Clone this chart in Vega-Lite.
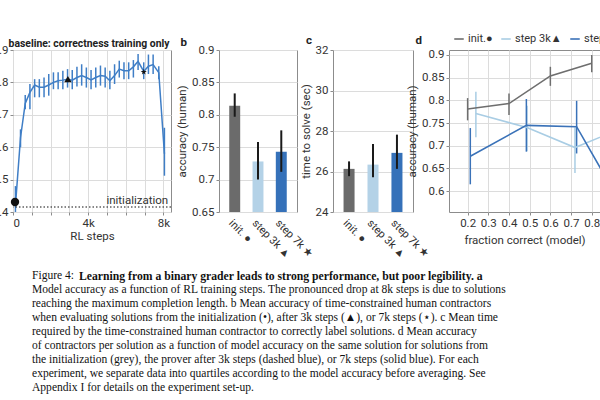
{
  "$schema": "https://vega.github.io/schema/vega-lite/v6.json",
  "padding": {"left": -9, "top": 32, "right": 0, "bottom": 0},
  "spacing": 8,
  "config": {
    "font": "Roboto",
    "view": {"stroke": "#8c8c8c", "strokeWidth": 1},
    "axis": {"labelFont": "Roboto", "labelFontSize": 11.5, "labelColor": "#333", "titleFont": "Roboto", "titleFontSize": 11.5, "titleFontWeight": "normal", "titleColor": "#333", "domain": false, "tickColor": "#8c8c8c", "tickSize": 3, "gridColor": "#dcdcdc", "labelPadding": 2, "titlePadding": 4, "labelOverlap": false},
    "title": {"font": "Roboto", "fontSize": 11.5, "fontWeight": "bold", "color": "#222"},
    "legend": {"labelFont": "Roboto", "labelFontSize": 11, "labelColor": "#333"}
  },
  "vconcat": [
    {
      "bounds": "flush",
      "spacing": 48,
      "hconcat": [
        {
          "width": 158,
          "height": 162,
          "title": {"text": "baseline: correctness training only", "offset": -5, "fontSize": 10.4, "dx": -3},
          "layer": [
            {
              "data": {"name": "rl", "values": [
                {"step": 130, "acc": 0.42, "lo": 0.4, "hi": 0.48},
                {"step": 400, "acc": 0.63, "lo": 0.6, "hi": 0.655},
                {"step": 650, "acc": 0.735, "lo": 0.717, "hi": 0.761},
                {"step": 900, "acc": 0.769, "lo": 0.717, "hi": 0.795},
                {"step": 1150, "acc": 0.792, "lo": 0.754, "hi": 0.81},
                {"step": 1400, "acc": 0.785, "lo": 0.754, "hi": 0.81},
                {"step": 1650, "acc": 0.785, "lo": 0.754, "hi": 0.815},
                {"step": 1900, "acc": 0.792, "lo": 0.759, "hi": 0.826},
                {"step": 2150, "acc": 0.8, "lo": 0.779, "hi": 0.831},
                {"step": 2400, "acc": 0.805, "lo": 0.779, "hi": 0.831},
                {"step": 2650, "acc": 0.807, "lo": 0.779, "hi": 0.836},
                {"step": 2900, "acc": 0.81, "lo": 0.784, "hi": 0.841},
                {"step": 3150, "acc": 0.807, "lo": 0.779, "hi": 0.838},
                {"step": 3400, "acc": 0.815, "lo": 0.787, "hi": 0.848},
                {"step": 3650, "acc": 0.821, "lo": 0.79, "hi": 0.856},
                {"step": 3900, "acc": 0.815, "lo": 0.784, "hi": 0.846},
                {"step": 4150, "acc": 0.808, "lo": 0.779, "hi": 0.838},
                {"step": 4400, "acc": 0.815, "lo": 0.784, "hi": 0.846},
                {"step": 4650, "acc": 0.821, "lo": 0.79, "hi": 0.852},
                {"step": 4900, "acc": 0.819, "lo": 0.784, "hi": 0.846},
                {"step": 5150, "acc": 0.805, "lo": 0.779, "hi": 0.836},
                {"step": 5400, "acc": 0.821, "lo": 0.795, "hi": 0.856},
                {"step": 5650, "acc": 0.841, "lo": 0.815, "hi": 0.867},
                {"step": 5900, "acc": 0.836, "lo": 0.81, "hi": 0.862},
                {"step": 6150, "acc": 0.836, "lo": 0.81, "hi": 0.862},
                {"step": 6400, "acc": 0.848, "lo": 0.815, "hi": 0.869},
                {"step": 6650, "acc": 0.865, "lo": 0.838, "hi": 0.888},
                {"step": 6950, "acc": 0.834, "lo": 0.81, "hi": 0.862},
                {"step": 7200, "acc": 0.85, "lo": 0.826, "hi": 0.886},
                {"step": 7450, "acc": 0.855, "lo": 0.826, "hi": 0.886},
                {"step": 7750, "acc": 0.83, "lo": 0.81, "hi": 0.85},
                {"step": 8050, "acc": 0.58, "lo": 0.512, "hi": 0.66}
              ]},
              "mark": {"type": "rule", "color": "#3f7ec6", "strokeWidth": 1.5},
              "encoding": {
                "x": {"field": "step", "type": "quantitative", "scale": {"domain": [0, 8400], "nice": false},
                  "axis": {"title": "RL steps", "values": [0, 1000, 2000, 3000, 4000, 5000, 6000, 7000, 8000], "tickCount": 30, "labelExpr": "datum.value == 0 ? '0' : (datum.value % 4000 == 0 ? (datum.value / 1000) + 'k' : '')", "grid": true, "titlePadding": 2, "labelOverlap": false}},
                "y": {"field": "lo", "type": "quantitative", "scale": {"domain": [0.4, 0.9], "nice": false, "zero": false},
                  "axis": {"title": null, "values": [0.4, 0.5, 0.6, 0.7, 0.8, 0.9], "tickCount": 30, "format": "~g", "grid": true, "labelOverlap": false}},
                "y2": {"field": "hi"}
              }
            },
            {
              "data": {"name": "rl"},
              "mark": {"type": "line", "color": "#3f7ec6", "strokeWidth": 1.5},
              "encoding": {
                "x": {"field": "step", "type": "quantitative"},
                "y": {"field": "acc", "type": "quantitative"}
              }
            },
            {
              "data": {"values": [{"v": 0.4155}]},
              "mark": {"type": "rule", "color": "#111", "strokeWidth": 1.2, "strokeDash": [1.5, 2]},
              "encoding": {"y": {"field": "v", "type": "quantitative"}}
            },
            {
              "data": {"values": [{"s": 8250, "v": 0.4155, "t": "initialization"}]},
              "mark": {"type": "text", "align": "right", "baseline": "bottom", "dy": -1, "fontSize": 11.5, "color": "#333"},
              "encoding": {
                "x": {"field": "s", "type": "quantitative"},
                "y": {"field": "v", "type": "quantitative"},
                "text": {"field": "t"}
              }
            },
            {
              "data": {"values": [{"s": 106, "v": 0.431, "m": "init"}, {"s": 2920, "v": 0.81, "m": "3k"}, {"s": 6950, "v": 0.832, "m": "7k"}]},
              "mark": {"type": "point", "filled": true, "color": "#111", "opacity": 1},
              "encoding": {
                "x": {"field": "s", "type": "quantitative"},
                "y": {"field": "v", "type": "quantitative"},
                "shape": {"field": "m", "type": "nominal", "scale": {"domain": ["init", "3k", "7k"], "range": ["circle", "triangle-up", "M0,-1L0.22,-0.31L0.95,-0.31L0.36,0.12L0.59,0.81L0,0.38L-0.59,0.81L-0.36,0.12L-0.95,-0.31L-0.22,-0.31Z"]}, "legend": null},
                "size": {"field": "m", "type": "nominal", "scale": {"domain": ["init", "3k", "7k"], "range": [70, 40, 80]}, "legend": null}
              }
            }
          ]
        },
        {
          "bounds": "flush",
          "spacing": 36,
          "resolve": {"scale": {"color": "independent"}},
          "hconcat": [
            {
              "width": 78,
              "height": 162,
              "title": {"text": "b", "anchor": "start", "frame": "bounds", "offset": -4, "dx": 4},
              "data": {"values": [
                {"cond": "init. ●", "acc": 0.814, "lo": 0.797, "hi": 0.833},
                {"cond": "step 3k ▲", "acc": 0.728, "lo": 0.7, "hi": 0.758},
                {"cond": "step 7k ★", "acc": 0.743, "lo": 0.712, "hi": 0.776}
              ]},
              "encoding": {
                "x": {"field": "cond", "type": "nominal", "sort": null, "scale": {"paddingInner": 0.53, "paddingOuter": 0.44},
                  "axis": {"title": null, "labelAngle": 45, "labelAlign": "left", "labelBaseline": "top", "ticks": false, "grid": false, "labelPadding": 5, "labelFontSize": 11}}
              },
              "layer": [
                {
                  "mark": {"type": "bar"},
                  "encoding": {
                    "y": {"field": "acc", "type": "quantitative", "scale": {"domain": [0.65, 0.9], "nice": false, "zero": false},
                      "axis": {"title": "accuracy (human)", "values": [0.65, 0.7, 0.75, 0.8, 0.85, 0.9], "tickCount": 30, "format": "~g", "grid": true, "labelOverlap": false}},
                    "y2": {"datum": 0.65},
                    "color": {"field": "cond", "type": "nominal", "sort": null, "scale": {"range": ["#6b6b6b", "#b4d2e7", "#3571b9"]}, "legend": null}
                  }
                },
                {
                  "mark": {"type": "rule", "color": "#1a1a1a", "strokeWidth": 2},
                  "encoding": {
                    "y": {"field": "lo", "type": "quantitative"},
                    "y2": {"field": "hi"}
                  }
                }
              ]
            },
            {
              "width": 80,
              "height": 162,
              "title": {"text": "c", "anchor": "start", "frame": "bounds", "offset": -2, "dx": 6},
              "data": {"values": [
                {"cond": "init. ●", "t": 26.13, "lo": 25.77, "hi": 26.5},
                {"cond": "step 3k ▲", "t": 26.34, "lo": 25.72, "hi": 27.36},
                {"cond": "step 7k ★", "t": 26.92, "lo": 26.13, "hi": 27.82}
              ]},
              "encoding": {
                "x": {"field": "cond", "type": "nominal", "sort": null, "scale": {"paddingInner": 0.54, "paddingOuter": 0.44},
                  "axis": {"title": null, "labelAngle": 45, "labelAlign": "left", "labelBaseline": "top", "ticks": false, "grid": false, "labelPadding": 5, "labelFontSize": 11}}
              },
              "layer": [
                {
                  "mark": {"type": "bar"},
                  "encoding": {
                    "y": {"field": "t", "type": "quantitative", "scale": {"domain": [24, 32], "nice": false, "zero": false},
                      "axis": {"title": "time to solve (sec)", "values": [24, 26, 28, 30, 32], "tickCount": 30, "format": "~g", "grid": true, "labelOverlap": false}},
                    "y2": {"datum": 24},
                    "color": {"field": "cond", "type": "nominal", "sort": null, "scale": {"range": ["#6b6b6b", "#b4d2e7", "#3571b9"]}, "legend": null}
                  }
                },
                {
                  "mark": {"type": "rule", "color": "#1a1a1a", "strokeWidth": 2},
                  "encoding": {
                    "y": {"field": "lo", "type": "quantitative"},
                    "y2": {"field": "hi"}
                  }
                }
              ]
            },
            {
              "width": 151,
              "height": 162,
              "title": {"text": "d", "anchor": "start", "frame": "bounds", "offset": -13, "dx": 9},
              "data": {"values": [
                {"series": "init.●", "fc": 0.2, "acc": 0.781, "lo": 0.756, "hi": 0.805},
                {"series": "init.●", "fc": 0.4, "acc": 0.793, "lo": 0.768, "hi": 0.815},
                {"series": "init.●", "fc": 0.6, "acc": 0.854, "lo": 0.832, "hi": 0.874},
                {"series": "init.●", "fc": 0.8, "acc": 0.882, "lo": 0.862, "hi": 0.9},
                {"series": "step 3k▲", "fc": 0.24, "acc": 0.771, "lo": 0.719, "hi": 0.819},
                {"series": "step 3k▲", "fc": 0.487, "acc": 0.74, "lo": 0.688, "hi": 0.788},
                {"series": "step 3k▲", "fc": 0.719, "acc": 0.696, "lo": 0.64, "hi": 0.74},
                {"series": "step 3k▲", "fc": 0.9, "acc": 0.73, "lo": 0.68, "hi": 0.78},
                {"series": "step 7k★", "fc": 0.213, "acc": 0.677, "lo": 0.615, "hi": 0.739},
                {"series": "step 7k★", "fc": 0.484, "acc": 0.745, "lo": 0.687, "hi": 0.803},
                {"series": "step 7k★", "fc": 0.727, "acc": 0.742, "lo": 0.683, "hi": 0.799},
                {"series": "step 7k★", "fc": 0.9, "acc": 0.605, "lo": 0.55, "hi": 0.66}
              ]},
              "encoding": {
                "x": {"field": "fc", "type": "quantitative", "scale": {"domain": [0.11, 0.84], "nice": false, "zero": false},
                  "axis": {"title": "fraction correct (model)", "values": [0.2, 0.3, 0.4, 0.5, 0.6, 0.7, 0.8], "tickCount": 30, "format": "~g", "grid": true, "titlePadding": 6, "labelOverlap": false}},
                "color": {"field": "series", "type": "nominal", "sort": null,
                  "scale": {"domain": ["init.●", "step 3k▲", "step 7k★"], "range": ["#6e6e6e", "#a9cde4", "#3a72b8"]},
                  "legend": {"title": null, "orient": "none", "legendX": 4, "legendY": -17, "direction": "horizontal", "symbolType": "stroke", "symbolStrokeWidth": 1.6, "symbolSize": 90, "columnPadding": 5, "labelOffset": 3}}
              },
              "layer": [
                {
                  "mark": {"type": "rule", "strokeWidth": 1.5, "clip": true},
                  "encoding": {
                    "y": {"field": "lo", "type": "quantitative", "scale": {"domain": [0.554, 0.911], "nice": false, "zero": false},
                      "axis": {"title": "accuracy (human)", "values": [0.6, 0.65, 0.7, 0.75, 0.8, 0.85, 0.9], "tickCount": 30, "format": "~g", "grid": true, "labelOverlap": false}},
                    "y2": {"field": "hi"}
                  }
                },
                {
                  "mark": {"type": "line", "strokeWidth": 1.6, "clip": true},
                  "encoding": {
                    "y": {"field": "acc", "type": "quantitative"}
                  }
                }
              ]
            }
          ]
        }
      ]
    },
    {
      "width": 38,
      "height": 126,
      "view": {"stroke": null},
      "data": {"values": [
        {"line": 1, "text": "Figure 4:", "bold": "Learning from a binary grader leads to strong performance, but poor legibility. a"},
        {"line": 2, "text": "Model accuracy as a function of RL training steps. The pronounced drop at 8k steps is due to solutions"},
        {"line": 3, "text": "reaching the maximum completion length. b Mean accuracy of time-constrained human contractors"},
        {"line": 4, "text": "when evaluating solutions from the initialization (•), after 3k steps (▲), or 7k steps (⋆). c Mean time"},
        {"line": 5, "text": "required by the time-constrained human contractor to correctly label solutions. d Mean accuracy"},
        {"line": 6, "text": "of contractors per solution as a function of model accuracy on the same solution for solutions from"},
        {"line": 7, "text": "the initialization (grey), the prover after 3k steps (dashed blue), or 7k steps (solid blue). For each"},
        {"line": 8, "text": "experiment, we separate data into quartiles according to the model accuracy before averaging. See"},
        {"line": 9, "text": "Appendix I for details on the experiment set-up."}
      ]},
      "encoding": {
        "y": {"field": "line", "type": "ordinal", "axis": null}
      },
      "layer": [
        {
          "mark": {"type": "text", "align": "left", "baseline": "middle", "font": "Liberation Serif", "fontSize": 11.55, "color": "#111"},
          "encoding": {"text": {"field": "text"}}
        },
        {
          "transform": [{"filter": "datum.bold"}],
          "mark": {"type": "text", "align": "left", "baseline": "middle", "font": "Liberation Serif", "fontSize": 11.7, "fontWeight": "bold", "color": "#111", "dx": 47},
          "encoding": {"text": {"field": "bold"}}
        }
      ]
    }
  ]
}
